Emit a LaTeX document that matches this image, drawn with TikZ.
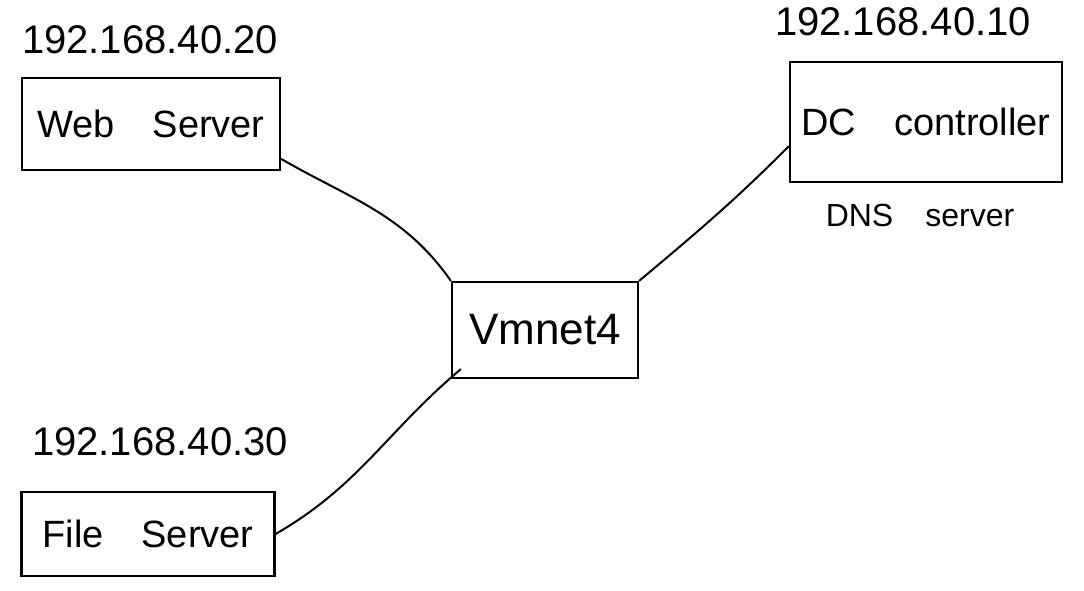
\documentclass[tikz,border=0pt]{standalone}
\usepackage{fontspec}
\setsansfont{Liberation Sans}
\usepackage{tikz}
\usetikzlibrary{positioning, calc}

\begin{document}
\begin{tikzpicture}[
    x=1pt, y=-1pt,
    font=\sffamily,
    hostBox/.style={draw=black, line width=2.2pt, align=center, inner sep=4pt, font=\sffamily\fontsize{38}{44}\selectfont},
    ipLabel/.style={font=\sffamily\fontsize{40}{46}\selectfont, inner sep=0pt},
    noteLabel/.style={font=\sffamily\fontsize{32}{38}\selectfont, inner sep=0pt},
    wireLine/.style={line width=2pt, draw=black}
]
    \useasboundingbox[fill=white] (0,0) rectangle (1084,590);

    % Nodes
    \node[hostBox, minimum width=258pt, minimum height=92pt] (web) at (151,124) {Web\quad Server};
    \node[hostBox, minimum width=272pt, minimum height=120pt] (dc) at (926,122) {DC\quad controller};
    \node[hostBox, minimum width=186pt, minimum height=96pt, font=\sffamily\fontsize{44}{50}\selectfont] (vmnet) at (545,330) {Vmnet4};
    \node[hostBox, minimum width=253pt, minimum height=84pt] (file) at (148,534) {File\quad Server};

    % Labels
    \node[ipLabel] (webIp) at (150,40) {192.168.40.20};
    \node[ipLabel] (dcIp) at (903,22) {192.168.40.10};
    \node[noteLabel] (dcNote) at (920,215) {DNS\quad server};
    \node[ipLabel] (fileIp) at (160,442) {192.168.40.30};

    % Lines
    \draw[wireLine] (web.-15) to[out=-30, in=125] (vmnet.north west);
    \draw[wireLine] (dc.190) to[out=-135, in=40] (vmnet.north east);
    \draw[wireLine] ($(vmnet.south west)+(10,-10)$) to[out=-140, in=30] (file.east);

\end{tikzpicture}
\end{document}
